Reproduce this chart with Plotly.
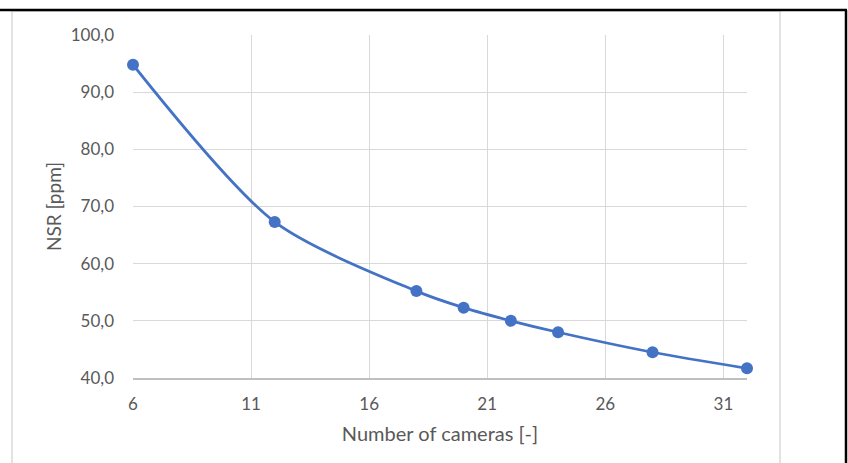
import plotly.graph_objects as go

cameras = [6, 12, 18, 20, 22, 24, 28, 32]
nsr_ppm = [94.8, 67.3, 55.2, 52.3, 50.0, 48.0, 44.5, 41.7]
x_ticks = [6, 11, 16, 21, 26, 31]
y_ticks = [40, 50, 60, 70, 80, 90, 100]

W, H = 848, 463
L, R, T, B = 133, 101, 35, 85
pw = W - L - R
ph = H - T - B

def px(x):
    return (x - L) / pw

def py(y):
    return 1 - (y - T) / ph

fig = go.Figure()
fig.add_trace(go.Scatter(
    x=cameras, y=nsr_ppm, mode="lines+markers",
    line=dict(color="#4472C4", width=2.75, shape="spline", smoothing=0.8),
    marker=dict(color="#4472C4", size=12),
    showlegend=False, cliponaxis=False,
))

font_fam = "Lato, 'Open Sans', sans-serif"
fig.update_layout(
    width=W, height=H,
    margin=dict(l=L, r=R, t=T, b=B),
    paper_bgcolor="white", plot_bgcolor="white",
    separators=",.",
    font=dict(family=font_fam, color="#595959", size=13),
    xaxis=dict(
        range=[6, 32], tickvals=x_ticks, showgrid=True, gridcolor="#D9D9D9", gridwidth=1,
        showline=True, linecolor="#BFBFBF", linewidth=1.5, zeroline=False,
        ticks="", ticklabelstandoff=10,
        title=dict(text="Number of cameras [-]", font=dict(size=20, color="#595959"), standoff=14),
        tickfont=dict(size=17),
    ),
    yaxis=dict(
        range=[40, 100], tickvals=y_ticks, tickformat=".1f", showgrid=True, gridcolor="#D9D9D9",
        gridwidth=1, showline=False, zeroline=False, ticks="", ticklabelstandoff=18,
        title=dict(text="NSR [ppm]", font=dict(size=19, color="#595959"), standoff=4),
        tickfont=dict(size=17),
    ),
    shapes=[
        dict(type="rect", xref="paper", yref="paper",
             x0=px(12), x1=px(780), y0=py(470), y1=py(11),
             line=dict(color="#D9D9D9", width=1.5), fillcolor="rgba(0,0,0,0)", layer="below"),
        dict(type="line", xref="paper", yref="paper",
             x0=px(0), x1=px(847), y0=py(10), y1=py(10),
             line=dict(color="black", width=2.5)),
        dict(type="line", xref="paper", yref="paper",
             x0=px(846), x1=px(846), y0=py(10), y1=py(470),
             line=dict(color="black", width=2.5)),
    ],
)

fig.write_html("out.html", config={"displayModeBar": False},
               post_script="document.body.style.margin='0';document.body.style.overflow='hidden';")
